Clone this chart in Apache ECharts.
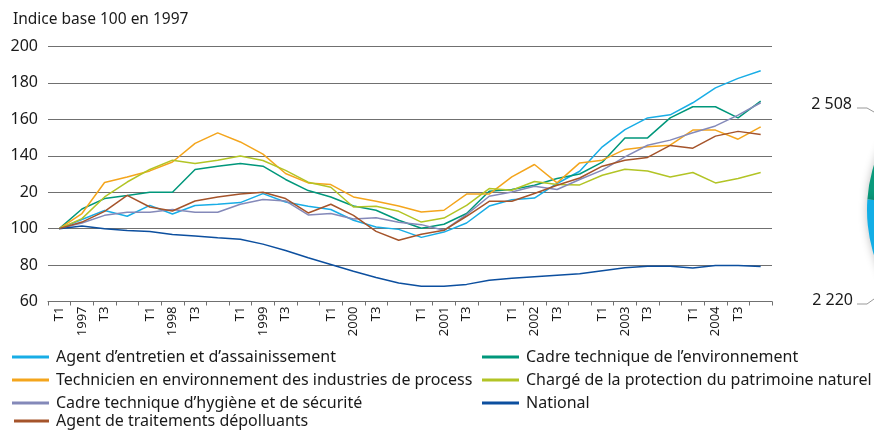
<!DOCTYPE html>
<html>
<head>
<meta charset="utf-8">
<title>Indice base 100 en 1997</title>
<script src="https://cdn.jsdelivr.net/npm/echarts@6.0.0/dist/echarts.min.js"></script>
<style>
  html, body { margin: 0; padding: 0; background: #fff; }
  #chart { width: 874px; height: 431px; }
</style>
</head>
<body>
<div id="chart"></div>
<script>
// quarters T1 1997 .. T4 2004
const years = [1997, 1998, 1999, 2000, 2001, 2002, 2003, 2004];
const quarters = ['T1', 'T2', 'T3', 'T4'];
const categories = [];
const xTickLabels = [];
years.forEach(y => {
  quarters.forEach(q => {
    categories.push(q + ' ' + y);
    // the source shows T1, year, T3, nothing
    xTickLabels.push(q === 'T2' ? String(y) : q === 'T4' ? '' : q);
  });
});

// y ticks as printed (120 is printed "20" in the source)
const yTicks = [60, 80, 100, 120, 140, 160, 180, 200];
const yTickLabels = ['60', '80', '100', '20', '140', '160', '180', '200'];

const agentEntretien = [100, 105, 110, 106.8, 112.8, 108, 112.7, 113.4, 114.3, 119.2, 114.6, 112.3, 110.5, 104.6, 100.9, 99.6, 95.2, 98.1, 103.1, 112.4, 115.9, 116.8, 124.8, 131.5, 144.9, 154.4, 160.8, 162.5, 169.1, 177.3, 182.5, 186.7];
const cadreEnvironnement = [100, 110.8, 116.5, 118.2, 120, 120, 132.5, 134.3, 135.8, 134.3, 127, 120.9, 117.4, 112.4, 110.1, 104.6, 100.2, 102.4, 108.3, 120.5, 121.5, 123.8, 127.5, 130, 136.5, 149.8, 149.8, 160.8, 166.9, 166.9, 160.8, 170];
const technicien = [100, 108.3, 125.3, 128.4, 131.7, 136.6, 146.8, 152.6, 147.6, 140.9, 130.3, 125.1, 124.2, 117.4, 115, 112.4, 109.1, 110.1, 119, 119, 128.4, 135.2, 125.1, 136.1, 137.6, 143.5, 144.9, 145.8, 154.1, 154.1, 149.1, 155.9];
const chargeProtection = [100, 105.5, 117.4, 125.6, 132.5, 137.6, 135.8, 137.6, 139.9, 137.4, 132, 125.5, 122.7, 111.9, 112.3, 109.5, 103.6, 105.8, 112.8, 122, 121.1, 125.9, 124.2, 124, 129.3, 132.6, 131.7, 128.4, 130.8, 125.1, 127.5, 130.8];
const cadreHygiene = [100, 103.1, 107.3, 109, 109, 110.5, 109, 109, 113.4, 116, 115.2, 107.5, 108.3, 105.3, 106, 103.5, 102.2, 99.1, 107.7, 117.8, 120.1, 123.3, 121.5, 127, 132.1, 139.4, 145.8, 148.6, 152.6, 156.4, 162.3, 169.1];
const national = [100, 101.5, 100, 99, 98.4, 96.8, 95.9, 95, 94.2, 91.5, 88, 84, 80.3, 76.6, 73.2, 70.2, 68.4, 68.4, 69.4, 71.7, 72.7, 73.6, 74.4, 75.2, 76.9, 78.5, 79.4, 79.4, 78.4, 79.8, 79.8, 79.2];
const agentTraitements = [100, 103.6, 109.5, 118.3, 111.9, 109.7, 115.2, 117.4, 119, 120, 116.5, 108.6, 113.4, 107.3, 98.5, 93.6, 96.9, 99.1, 106.8, 115, 115, 119.3, 123.8, 127.8, 134.3, 137.6, 139.1, 145.7, 144.2, 150.8, 153.4, 151.7];

// partial pie cut by the right edge (neighbouring figure)
const pieValues = [2508, 2220];

const lines = [
  { name: 'Agent d\u2019entretien et d\u2019assainissement', data: agentEntretien, color: '#18ade6' },
  { name: 'Cadre technique de l\u2019environnement', data: cadreEnvironnement, color: '#00977b' },
  { name: 'Technicien en environnement des industries de process', data: technicien, color: '#f4a51c' },
  { name: 'Charg\u00e9 de la protection du patrimoine naturel', data: chargeProtection, color: '#b2c425' },
  { name: 'Cadre technique d\u2019hygi\u00e8ne et de s\u00e9curit\u00e9', data: cadreHygiene, color: '#8489b9' },
  { name: 'National', data: national, color: '#0c4f9f' },
  { name: 'Agent de traitements d\u00e9polluants', data: agentTraitements, color: '#a5542b' }
];

const font = "'Noto Sans', sans-serif";
const textColor = '#1a1a1a';
const gridColor = '#707070';

const legendBase = {
  orient: 'vertical',
  padding: 0,
  icon: 'rect',
  itemWidth: 37,
  itemHeight: 3,
  selectedMode: false,
  textStyle: { fontFamily: font, fontSize: 16, color: textColor, lineHeight: 18, padding: [0, 0, 0, 2] }
};

const chart = echarts.init(document.getElementById('chart'));

chart.setOption({
  animation: false,
  title: {
    text: 'Indice base 100 en 1997',
    left: 13,
    top: 12,
    padding: 0,
    textStyle: { fontFamily: font, fontSize: 15.5, fontWeight: 'normal', color: textColor }
  },
  legend: [
    Object.assign({}, legendBase, {
      left: 12, top: 348, itemGap: 5,
      data: [lines[0].name, lines[2].name, lines[4].name]
    }),
    Object.assign({}, legendBase, {
      left: 14, top: 412, itemWidth: 35,
      data: [lines[6].name]
    }),
    Object.assign({}, legendBase, {
      left: 482, top: 348, itemGap: 5,
      data: [lines[1].name, lines[3].name, lines[5].name]
    })
  ],
  grid: { left: 48, right: 102, top: 46.5, bottom: 129.5, containLabel: false },
  xAxis: {
    type: 'category',
    data: categories,
    boundaryGap: true,
    axisLine: { lineStyle: { color: gridColor, width: 1 } },
    axisTick: { show: true, length: 4, lineStyle: { color: gridColor } },
    axisLabel: {
      interval: 0,
      rotate: 90,
      margin: 5,
      fontFamily: font,
      fontSize: 13,
      color: textColor,
      formatter: (v, i) => xTickLabels[i]
    },
    splitLine: { show: false }
  },
  yAxis: {
    type: 'value',
    min: 60,
    max: 200,
    interval: 20,
    axisLine: { show: false },
    axisTick: { show: false },
    axisLabel: {
      margin: 10,
      fontFamily: font,
      fontSize: 16,
      color: textColor,
      formatter: v => yTickLabels[yTicks.indexOf(v)]
    },
    splitLine: { lineStyle: { color: gridColor, width: 1 } }
  },
  series: lines.map(l => ({
    name: l.name,
    type: 'line',
    data: l.data,
    symbol: 'none',
    color: l.color,
    lineStyle: { color: l.color, width: 1.5 }
  })).concat([{
    type: 'pie',
    silent: true,
    center: [1017, 210],
    radius: 150,
    startAngle: 176,
    label: { show: false },
    labelLine: { show: false },
    itemStyle: { shadowBlur: 8, shadowColor: 'rgba(0,0,0,0.25)' },
    data: [
      { value: pieValues[0], name: String(pieValues[0]), itemStyle: { color: '#0a9a7c' } },
      { value: pieValues[1], name: String(pieValues[1]), itemStyle: { color: '#12aee6' } }
    ]
  }]),
  graphic: [
    {
      type: 'text', right: 874 - 852, top: 96,
      style: { text: '2 508', font: "16px 'Noto Sans', sans-serif", fill: textColor }
    },
    {
      type: 'polyline', silent: true,
      shape: { points: [[857, 108], [867, 108], [874, 112]] },
      style: { stroke: '#999', lineWidth: 1, fill: null }
    },
    {
      type: 'text', right: 874 - 853, top: 292,
      style: { text: '2 220', font: "16px 'Noto Sans', sans-serif", fill: textColor }
    },
    {
      type: 'polyline', silent: true,
      shape: { points: [[857, 304], [867, 304], [874, 299]] },
      style: { stroke: '#999', lineWidth: 1, fill: null }
    }
  ]
});
</script>
</body>
</html>
